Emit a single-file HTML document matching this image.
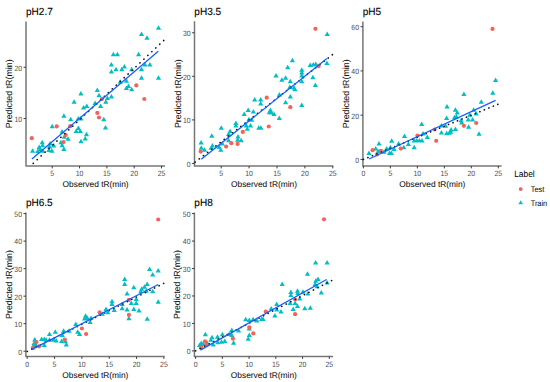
<!DOCTYPE html>
<html><head><meta charset="utf-8"><title>pH panels</title>
<style>
html,body{margin:0;padding:0;background:#fff;}
body{width:550px;height:382px;overflow:hidden;}
svg{display:block;font-family:"Liberation Sans", sans-serif;text-rendering:geometricPrecision;}
.ttl{font-size:10.35px;fill:#000;stroke:#000;stroke-width:0.1px;}
.atl{font-size:8.4px;fill:#111;stroke:#111;stroke-width:0.06px;}
.ytl{font-size:8.85px;fill:#111;stroke:#111;stroke-width:0.06px;}
.tl{font-size:7.7px;fill:#4D4D4D;}
.lgt{font-size:9.1px;fill:#000;}
.lgl{font-size:8.0px;fill:#000;}
.ax{fill:none;stroke:#777;stroke-width:1.5;}
.tk{fill:none;stroke:#333;stroke-width:0.95;}
</style></head>
<body>
<svg width="550" height="382" viewBox="0 0 550 382">
<rect width="550" height="382" fill="#fff"/>
<text transform="translate(26.0 15.15) scale(0.97 1)" class="ttl">pH2.7</text>
<text transform="translate(12.00 93.75) rotate(-90)" text-anchor="middle" class="ytl">Predicted tR(min)</text>
<text x="95.60" y="186.80" text-anchor="middle" class="atl">Observed tR(min)</text>
<path d="M26.00 21.50V166.00H165.00" class="ax"/>
<text transform="translate(52.22 176.30) scale(0.9 1)" text-anchor="middle" class="tl">5</text>
<text transform="translate(79.55 176.30) scale(0.9 1)" text-anchor="middle" class="tl">10</text>
<text transform="translate(106.88 176.30) scale(0.9 1)" text-anchor="middle" class="tl">15</text>
<text transform="translate(134.20 176.30) scale(0.9 1)" text-anchor="middle" class="tl">20</text>
<text transform="translate(161.53 176.30) scale(0.9 1)" text-anchor="middle" class="tl">25</text>
<text transform="translate(22.10 121.85) scale(0.9 1)" text-anchor="end" class="tl">10</text>
<text transform="translate(22.10 70.65) scale(0.9 1)" text-anchor="end" class="tl">20</text>
<path d="M52.22 166.00v2.4M79.55 166.00v2.4M106.88 166.00v2.4M134.20 166.00v2.4M161.53 166.00v2.4M26.00 118.50h-2.4M26.00 67.30h-2.4" class="tk"/>
<path d="M52.20 123.80L54.80 128.30L49.60 128.30ZM62.10 128.90L64.70 133.40L59.50 133.40ZM64.30 134.30L66.90 138.80L61.70 138.80ZM68.10 136.20L70.70 140.70L65.50 140.70ZM60.90 139.80L63.50 144.30L58.30 144.30ZM62.10 142.80L64.70 147.30L59.50 147.30ZM63.90 146.40L66.50 150.90L61.30 150.90ZM42.20 139.80L44.80 144.30L39.60 144.30ZM42.60 142.80L45.20 147.30L40.00 147.30ZM39.20 144.60L41.80 149.10L36.60 149.10ZM40.40 146.40L43.00 150.90L37.80 150.90ZM37.80 148.50L40.40 153.00L35.20 153.00ZM32.60 148.20L35.20 152.70L30.00 152.70ZM50.10 141.00L52.70 145.50L47.50 145.50ZM49.50 144.00L52.10 148.50L46.90 148.50ZM53.70 143.00L56.30 147.50L51.10 147.50ZM51.90 148.20L54.50 152.70L49.30 152.70ZM48.90 147.60L51.50 152.10L46.30 152.10ZM42.80 148.20L45.40 152.70L40.20 152.70ZM97.30 87.50L99.90 92.00L94.70 92.00ZM80.90 91.00L83.50 95.50L78.30 95.50ZM99.00 92.70L101.60 97.20L96.40 97.20ZM107.40 95.60L110.00 100.10L104.80 100.10ZM105.80 99.30L108.40 103.80L103.20 103.80ZM74.10 99.30L76.70 103.80L71.50 103.80ZM95.10 100.60L97.70 105.10L92.50 105.10ZM100.60 103.40L103.20 107.90L98.00 107.90ZM83.60 105.00L86.20 109.50L81.00 109.50ZM86.80 103.40L89.40 107.90L84.20 107.90ZM63.90 113.30L66.50 117.80L61.30 117.80ZM70.70 116.80L73.30 121.30L68.10 121.30ZM78.30 115.90L80.90 120.40L75.70 120.40ZM80.90 115.90L83.50 120.40L78.30 120.40ZM103.80 116.80L106.40 121.30L101.20 121.30ZM105.50 125.00L108.10 129.50L102.90 129.50ZM78.40 125.40L81.00 129.90L75.80 129.90ZM76.20 128.40L78.80 132.90L73.60 132.90ZM80.30 128.40L82.90 132.90L77.70 132.90ZM86.50 131.70L89.10 136.20L83.90 136.20ZM85.20 136.10L87.80 140.60L82.60 140.60ZM81.00 138.70L83.60 143.20L78.40 143.20ZM158.50 25.30L161.10 29.80L155.90 29.80ZM141.50 31.50L144.10 36.00L138.90 36.00ZM147.00 35.30L149.60 39.80L144.40 39.80ZM113.40 51.70L116.00 56.20L110.80 56.20ZM117.40 51.70L120.00 56.20L114.80 56.20ZM138.60 51.70L141.20 56.20L136.00 56.20ZM111.40 61.90L114.00 66.40L108.80 66.40ZM116.00 66.80L118.60 71.30L113.40 71.30ZM111.40 68.90L114.00 73.40L108.80 73.40ZM121.80 66.80L124.40 71.30L119.20 71.30ZM124.40 64.00L127.00 68.50L121.80 68.50ZM131.70 66.80L134.30 71.30L129.10 71.30ZM141.50 66.80L144.10 71.30L138.90 71.30ZM144.90 61.90L147.50 66.40L142.30 66.40ZM149.90 61.90L152.50 66.40L147.30 66.40ZM141.50 75.20L144.10 79.70L138.90 79.70ZM158.50 75.20L161.10 79.70L155.90 79.70ZM126.40 78.30L129.00 82.80L123.80 82.80ZM120.20 79.30L122.80 83.80L117.60 83.80ZM128.50 83.50L131.10 88.00L125.90 88.00ZM126.40 85.60L129.00 90.10L123.80 90.10ZM131.70 86.70L134.30 91.20L129.10 91.20ZM111.40 94.00L114.00 98.50L108.80 98.50Z" fill="#00BFC4"/>
<circle cx="31.80" cy="138.20" r="2.1" fill="#F3625B"/>
<circle cx="56.70" cy="126.40" r="2.1" fill="#F3625B"/>
<circle cx="65.70" cy="135.10" r="2.1" fill="#F3625B"/>
<circle cx="63.50" cy="142.10" r="2.1" fill="#F3625B"/>
<circle cx="70.30" cy="126.20" r="2.1" fill="#F3625B"/>
<circle cx="101.90" cy="99.10" r="2.1" fill="#F3625B"/>
<circle cx="97.30" cy="112.90" r="2.1" fill="#F3625B"/>
<circle cx="99.00" cy="117.50" r="2.1" fill="#F3625B"/>
<circle cx="136.30" cy="85.40" r="2.1" fill="#F3625B"/>
<circle cx="144.30" cy="99.00" r="2.1" fill="#F3625B"/>
<line x1="33.2" y1="163.4" x2="165.0" y2="39.3" stroke="#111" stroke-width="1.65" stroke-linecap="round" stroke-dasharray="0.15 5.28"/>
<line x1="31.9" y1="159.1" x2="158.3" y2="51.3" stroke="#1560FF" stroke-width="1.3"/>
<text transform="translate(194.3 15.15) scale(0.97 1)" class="ttl">pH3.5</text>
<text transform="translate(180.50 93.65) rotate(-90)" text-anchor="middle" class="ytl">Predicted tR(min)</text>
<text x="264.00" y="186.80" text-anchor="middle" class="atl">Observed tR(min)</text>
<path d="M194.50 21.30V166.00H333.30" class="ax"/>
<text transform="translate(221.20 176.30) scale(0.9 1)" text-anchor="middle" class="tl">5</text>
<text transform="translate(249.10 176.30) scale(0.9 1)" text-anchor="middle" class="tl">10</text>
<text transform="translate(277.00 176.30) scale(0.9 1)" text-anchor="middle" class="tl">15</text>
<text transform="translate(304.90 176.30) scale(0.9 1)" text-anchor="middle" class="tl">20</text>
<text transform="translate(332.80 176.30) scale(0.9 1)" text-anchor="middle" class="tl">25</text>
<text transform="translate(190.60 166.85) scale(0.9 1)" text-anchor="end" class="tl">0</text>
<text transform="translate(190.60 123.27) scale(0.9 1)" text-anchor="end" class="tl">10</text>
<text transform="translate(190.60 79.69) scale(0.9 1)" text-anchor="end" class="tl">20</text>
<text transform="translate(190.60 36.11) scale(0.9 1)" text-anchor="end" class="tl">30</text>
<path d="M221.20 166.00v2.4M249.10 166.00v2.4M277.00 166.00v2.4M304.90 166.00v2.4M332.80 166.00v2.4M194.50 163.50h-2.4M194.50 119.92h-2.4M194.50 76.34h-2.4M194.50 32.76h-2.4" class="tk"/>
<path d="M254.70 96.90L257.30 101.40L252.10 101.40ZM260.70 96.90L263.30 101.40L258.10 101.40ZM260.70 100.90L263.30 105.40L258.10 105.40ZM248.20 107.60L250.80 112.10L245.60 112.10ZM253.40 109.00L256.00 113.50L250.80 113.50ZM244.20 111.40L246.80 115.90L241.60 115.90ZM248.90 116.80L251.50 121.30L246.30 121.30ZM251.70 117.30L254.30 121.80L249.10 121.80ZM235.90 120.60L238.50 125.10L233.30 125.10ZM235.90 123.10L238.50 127.60L233.30 127.60ZM246.30 123.10L248.90 127.60L243.70 127.60ZM250.50 123.10L253.10 127.60L247.90 127.60ZM247.30 126.20L249.90 130.70L244.70 130.70ZM258.80 125.20L261.40 129.70L256.20 129.70ZM260.90 125.20L263.50 129.70L258.30 129.70ZM221.30 125.20L223.90 129.70L218.70 129.70ZM230.10 128.40L232.70 132.90L227.50 132.90ZM228.60 131.50L231.20 136.00L226.00 136.00ZM211.80 133.20L214.40 137.70L209.20 137.70ZM238.00 134.00L240.60 138.50L235.40 138.50ZM237.60 137.20L240.20 141.70L235.00 141.70ZM241.20 137.80L243.80 142.30L238.60 142.30ZM228.60 137.80L231.20 142.30L226.00 142.30ZM201.10 139.90L203.70 144.40L198.50 144.40ZM212.40 143.10L215.00 147.60L209.80 147.60ZM222.30 141.00L224.90 145.50L219.70 145.50ZM201.30 145.20L203.90 149.70L198.70 149.70ZM204.50 147.20L207.10 151.70L201.90 151.70ZM211.20 145.20L213.80 149.70L208.60 149.70ZM219.20 144.50L221.80 149.00L216.60 149.00ZM220.80 147.20L223.40 151.70L218.20 151.70ZM327.20 31.50L329.80 36.00L324.60 36.00ZM292.40 57.80L295.00 62.30L289.80 62.30ZM287.70 64.70L290.30 69.20L285.10 69.20ZM310.20 62.60L312.80 67.10L307.60 67.10ZM313.30 61.90L315.90 66.40L310.70 66.40ZM315.80 61.50L318.40 66.00L313.20 66.00ZM326.90 60.50L329.50 65.00L324.30 65.00ZM301.80 67.20L304.40 71.70L299.20 71.70ZM301.80 69.90L304.40 74.40L299.20 74.40ZM301.80 73.10L304.40 77.60L299.20 77.60ZM276.00 73.10L278.60 77.60L273.40 77.60ZM281.90 77.20L284.50 81.70L279.30 81.70ZM285.60 75.20L288.20 79.70L283.00 79.70ZM290.30 78.70L292.90 83.20L287.70 83.20ZM301.80 78.70L304.40 83.20L299.20 83.20ZM312.90 74.70L315.50 79.20L310.30 79.20ZM315.40 82.50L318.00 87.00L312.80 87.00ZM289.80 84.60L292.40 89.10L287.20 89.10ZM294.00 85.00L296.60 89.50L291.40 89.50ZM294.90 86.70L297.50 91.20L292.30 91.20ZM279.40 91.90L282.00 96.40L276.80 96.40ZM290.30 94.00L292.90 98.50L287.70 98.50ZM285.60 99.70L288.20 104.20L283.00 104.20ZM301.80 102.60L304.40 107.10L299.20 107.10ZM270.40 107.60L273.00 112.10L267.80 112.10ZM269.30 109.70L271.90 114.20L266.70 114.20ZM271.40 110.00L274.00 114.50L268.80 114.50ZM274.00 111.40L276.60 115.90L271.40 115.90ZM279.30 115.60L281.90 120.10L276.70 120.10Z" fill="#00BFC4"/>
<circle cx="242.80" cy="131.90" r="2.1" fill="#F3625B"/>
<circle cx="231.30" cy="143.20" r="2.1" fill="#F3625B"/>
<circle cx="237.60" cy="143.90" r="2.1" fill="#F3625B"/>
<circle cx="226.10" cy="146.60" r="2.1" fill="#F3625B"/>
<circle cx="200.70" cy="151.60" r="2.1" fill="#F3625B"/>
<circle cx="315.40" cy="28.80" r="2.1" fill="#F3625B"/>
<circle cx="318.60" cy="66.10" r="2.1" fill="#F3625B"/>
<circle cx="266.70" cy="97.70" r="2.1" fill="#F3625B"/>
<circle cx="290.30" cy="107.20" r="2.1" fill="#F3625B"/>
<circle cx="268.80" cy="126.50" r="2.1" fill="#F3625B"/>
<line x1="195.1" y1="162.2" x2="333.6" y2="53.8" stroke="#111" stroke-width="1.65" stroke-linecap="round" stroke-dasharray="0.15 5.13"/>
<line x1="201.3" y1="159.3" x2="326.9" y2="58.4" stroke="#1560FF" stroke-width="1.3"/>
<text transform="translate(362.7 15.15) scale(0.97 1)" class="ttl">pH5</text>
<text transform="translate(348.90 93.75) rotate(-90)" text-anchor="middle" class="ytl">Predicted tR(min)</text>
<text x="432.35" y="186.80" text-anchor="middle" class="atl">Observed tR(min)</text>
<path d="M362.90 21.50V166.00H501.60" class="ax"/>
<text transform="translate(363.40 176.30) scale(0.9 1)" text-anchor="middle" class="tl">0</text>
<text transform="translate(390.38 176.30) scale(0.9 1)" text-anchor="middle" class="tl">5</text>
<text transform="translate(417.36 176.30) scale(0.9 1)" text-anchor="middle" class="tl">10</text>
<text transform="translate(444.34 176.30) scale(0.9 1)" text-anchor="middle" class="tl">15</text>
<text transform="translate(471.32 176.30) scale(0.9 1)" text-anchor="middle" class="tl">20</text>
<text transform="translate(498.30 176.30) scale(0.9 1)" text-anchor="middle" class="tl">25</text>
<text transform="translate(359.00 162.75) scale(0.9 1)" text-anchor="end" class="tl">0</text>
<text transform="translate(359.00 118.51) scale(0.9 1)" text-anchor="end" class="tl">20</text>
<text transform="translate(359.00 74.27) scale(0.9 1)" text-anchor="end" class="tl">40</text>
<text transform="translate(359.00 30.03) scale(0.9 1)" text-anchor="end" class="tl">60</text>
<path d="M363.40 166.00v2.4M390.38 166.00v2.4M417.36 166.00v2.4M444.34 166.00v2.4M471.32 166.00v2.4M498.30 166.00v2.4M362.90 159.40h-2.4M362.90 115.16h-2.4M362.90 70.92h-2.4M362.90 26.68h-2.4" class="tk"/>
<path d="M421.70 121.60L424.30 126.10L419.10 126.10ZM404.50 133.60L407.10 138.10L401.90 138.10ZM427.30 134.50L429.90 139.00L424.70 139.00ZM423.10 131.10L425.70 135.60L420.50 135.60ZM414.20 137.90L416.80 142.40L411.60 142.40ZM416.80 137.90L419.40 142.40L414.20 142.40ZM419.40 137.90L422.00 142.40L416.80 142.40ZM422.00 137.90L424.60 142.40L419.40 142.40ZM414.20 144.70L416.80 149.20L411.60 149.20ZM391.70 138.20L394.30 142.70L389.10 142.70ZM379.00 140.90L381.60 145.40L376.40 145.40ZM398.60 140.90L401.20 145.40L396.00 145.40ZM408.40 141.50L411.00 146.00L405.80 146.00ZM403.80 144.80L406.40 149.30L401.20 149.30ZM390.40 144.80L393.00 149.30L387.80 149.30ZM394.10 146.60L396.70 151.10L391.50 151.10ZM386.70 146.10L389.30 150.60L384.10 150.60ZM375.70 146.10L378.30 150.60L373.10 150.60ZM369.00 150.60L371.60 155.10L366.40 155.10ZM389.50 150.60L392.10 155.10L386.90 155.10ZM391.30 150.60L393.90 155.10L388.70 155.10ZM378.10 148.80L380.70 153.30L375.50 153.30ZM384.00 149.20L386.60 153.70L381.40 153.70ZM463.90 91.60L466.50 96.10L461.30 96.10ZM492.80 90.30L495.40 94.80L490.20 94.80ZM481.30 99.20L483.90 103.70L478.70 103.70ZM447.00 104.10L449.60 108.60L444.40 108.60ZM455.40 107.30L458.00 111.80L452.80 111.80ZM457.30 110.10L459.90 114.60L454.70 114.60ZM473.70 107.30L476.30 111.80L471.10 111.80ZM456.40 113.90L459.00 118.40L453.80 118.40ZM454.50 114.80L457.10 119.30L451.90 119.30ZM446.60 115.40L449.20 119.90L444.00 119.90ZM469.80 112.30L472.40 116.80L467.20 116.80ZM468.20 117.10L470.80 121.60L465.60 121.60ZM472.60 116.90L475.20 121.40L470.00 121.40ZM476.20 111.10L478.80 115.60L473.60 115.60ZM461.70 119.90L464.30 124.40L459.10 124.40ZM461.10 117.70L463.70 122.20L458.50 122.20ZM468.60 124.30L471.20 128.80L466.00 128.80ZM441.40 123.00L444.00 127.50L438.80 127.50ZM445.60 123.20L448.20 127.70L443.00 127.70ZM441.40 130.00L444.00 134.50L438.80 134.50ZM446.60 130.70L449.20 135.20L444.00 135.20ZM449.30 130.30L451.90 134.80L446.70 134.80ZM451.10 127.10L453.70 131.60L448.50 131.60ZM455.40 126.50L458.00 131.00L452.80 131.00ZM450.70 129.30L453.30 133.80L448.10 133.80ZM479.00 131.20L481.60 135.70L476.40 135.70ZM495.60 77.40L498.20 81.90L493.00 81.90Z" fill="#00BFC4"/>
<circle cx="417.50" cy="135.50" r="2.1" fill="#F3625B"/>
<circle cx="400.80" cy="148.60" r="2.1" fill="#F3625B"/>
<circle cx="372.60" cy="150.20" r="2.1" fill="#F3625B"/>
<circle cx="380.90" cy="150.80" r="2.1" fill="#F3625B"/>
<circle cx="377.00" cy="154.50" r="2.1" fill="#F3625B"/>
<circle cx="463.90" cy="125.80" r="2.1" fill="#F3625B"/>
<circle cx="476.20" cy="123.00" r="2.1" fill="#F3625B"/>
<circle cx="436.20" cy="140.80" r="2.1" fill="#F3625B"/>
<circle cx="434.60" cy="129.50" r="2.1" fill="#F3625B"/>
<circle cx="492.50" cy="28.90" r="2.1" fill="#F3625B"/>
<line x1="363.4" y1="159.4" x2="500.5" y2="103.2" stroke="#111" stroke-width="1.65" stroke-linecap="round" stroke-dasharray="0.15 4.69"/>
<line x1="369.0" y1="159.0" x2="495.6" y2="100.4" stroke="#1560FF" stroke-width="1.3"/>
<text transform="translate(25.9 206.15) scale(0.97 1)" class="ttl">pH6.5</text>
<text transform="translate(11.90 284.50) rotate(-90)" text-anchor="middle" class="ytl">Predicted tR(min)</text>
<text x="95.35" y="377.90" text-anchor="middle" class="atl">Observed tR(min)</text>
<path d="M25.90 212.50V356.50H164.60" class="ax"/>
<text transform="translate(27.20 366.80) scale(0.9 1)" text-anchor="middle" class="tl">0</text>
<text transform="translate(54.54 366.80) scale(0.9 1)" text-anchor="middle" class="tl">5</text>
<text transform="translate(81.88 366.80) scale(0.9 1)" text-anchor="middle" class="tl">10</text>
<text transform="translate(109.22 366.80) scale(0.9 1)" text-anchor="middle" class="tl">15</text>
<text transform="translate(136.56 366.80) scale(0.9 1)" text-anchor="middle" class="tl">20</text>
<text transform="translate(163.90 366.80) scale(0.9 1)" text-anchor="middle" class="tl">25</text>
<text transform="translate(22.00 354.55) scale(0.9 1)" text-anchor="end" class="tl">0</text>
<text transform="translate(22.00 327.03) scale(0.9 1)" text-anchor="end" class="tl">10</text>
<text transform="translate(22.00 299.51) scale(0.9 1)" text-anchor="end" class="tl">20</text>
<text transform="translate(22.00 271.99) scale(0.9 1)" text-anchor="end" class="tl">30</text>
<text transform="translate(22.00 244.47) scale(0.9 1)" text-anchor="end" class="tl">40</text>
<text transform="translate(22.00 216.95) scale(0.9 1)" text-anchor="end" class="tl">50</text>
<path d="M27.20 356.50v2.4M54.54 356.50v2.4M81.88 356.50v2.4M109.22 356.50v2.4M136.56 356.50v2.4M163.90 356.50v2.4M25.90 351.20h-2.4M25.90 323.68h-2.4M25.90 296.16h-2.4M25.90 268.64h-2.4M25.90 241.12h-2.4M25.90 213.60h-2.4" class="tk"/>
<path d="M85.60 313.20L88.20 317.70L83.00 317.70ZM87.40 315.40L90.00 319.90L84.80 319.90ZM84.60 315.90L87.20 320.40L82.00 320.40ZM91.10 315.40L93.70 319.90L88.50 319.90ZM90.10 319.60L92.70 324.10L87.50 324.10ZM75.80 321.40L78.40 325.90L73.20 325.90ZM77.70 329.30L80.30 333.80L75.10 333.80ZM79.50 331.50L82.10 336.00L76.90 336.00ZM55.30 329.30L57.90 333.80L52.70 333.80ZM49.50 331.50L52.10 336.00L46.90 336.00ZM63.60 328.20L66.20 332.70L61.00 332.70ZM69.10 328.20L71.70 332.70L66.50 332.70ZM62.30 332.40L64.90 336.90L59.70 336.90ZM41.60 336.60L44.20 341.10L39.00 341.10ZM44.30 336.60L46.90 341.10L41.70 341.10ZM46.20 337.30L48.80 341.80L43.60 341.80ZM53.50 337.30L56.10 341.80L50.90 341.80ZM56.20 337.90L58.80 342.40L53.60 342.40ZM49.50 337.30L52.10 341.80L46.90 341.80ZM61.70 338.40L64.30 342.90L59.10 342.90ZM65.40 338.80L68.00 343.30L62.80 343.30ZM66.30 342.10L68.90 346.60L63.70 346.60ZM44.30 342.50L46.90 347.00L41.70 347.00ZM34.80 337.00L37.40 341.50L32.20 341.50ZM34.20 340.60L36.80 345.10L31.60 345.10ZM33.30 343.40L35.90 347.90L30.70 347.90ZM36.10 342.50L38.70 347.00L33.50 347.00ZM149.60 266.40L152.20 270.90L147.00 270.90ZM158.20 268.00L160.80 272.50L155.60 272.50ZM152.70 271.90L155.30 276.40L150.10 276.40ZM124.70 276.50L127.30 281.00L122.10 281.00ZM124.70 281.40L127.30 285.90L122.10 285.90ZM133.80 284.70L136.40 289.20L131.20 289.20ZM147.20 281.40L149.80 285.90L144.60 285.90ZM144.50 284.20L147.10 288.70L141.90 288.70ZM141.70 286.30L144.30 290.80L139.10 290.80ZM146.30 288.20L148.90 292.70L143.70 292.70ZM152.70 288.70L155.30 293.20L150.10 293.20ZM140.80 288.70L143.40 293.20L138.20 293.20ZM127.10 291.10L129.70 295.60L124.50 295.60ZM136.20 296.60L138.80 301.10L133.60 301.10ZM136.20 300.60L138.80 305.10L133.60 305.10ZM131.30 300.60L133.90 305.10L128.70 305.10ZM112.00 298.80L114.60 303.30L109.40 303.30ZM112.00 301.60L114.60 306.10L109.40 306.10ZM122.10 301.60L124.70 306.10L119.50 306.10ZM158.20 299.20L160.80 303.70L155.60 303.70ZM122.10 305.80L124.70 310.30L119.50 310.30ZM127.10 307.10L129.70 311.60L124.50 311.60ZM133.80 306.50L136.40 311.00L131.20 311.00ZM139.00 308.00L141.60 312.50L136.40 312.50ZM114.20 307.60L116.80 312.10L111.60 312.10ZM106.00 306.50L108.60 311.00L103.40 311.00ZM107.80 309.80L110.40 314.30L105.20 314.30ZM102.30 311.30L104.90 315.80L99.70 315.80ZM128.90 315.70L131.50 320.20L126.30 320.20ZM147.20 316.20L149.80 320.70L144.60 320.70Z" fill="#00BFC4"/>
<circle cx="81.90" cy="328.50" r="2.1" fill="#F3625B"/>
<circle cx="86.10" cy="334.00" r="2.1" fill="#F3625B"/>
<circle cx="64.80" cy="339.50" r="2.1" fill="#F3625B"/>
<circle cx="36.40" cy="342.10" r="2.1" fill="#F3625B"/>
<circle cx="39.20" cy="346.30" r="2.1" fill="#F3625B"/>
<circle cx="33.00" cy="348.10" r="2.1" fill="#F3625B"/>
<circle cx="128.90" cy="299.90" r="2.1" fill="#F3625B"/>
<circle cx="99.60" cy="312.30" r="2.1" fill="#F3625B"/>
<circle cx="128.90" cy="314.90" r="2.1" fill="#F3625B"/>
<circle cx="158.20" cy="219.50" r="2.1" fill="#F3625B"/>
<line x1="27.2" y1="351.5" x2="164.6" y2="283.0" stroke="#111" stroke-width="1.65" stroke-linecap="round" stroke-dasharray="0.15 4.93"/>
<line x1="31.5" y1="349.6" x2="158.2" y2="284.5" stroke="#1560FF" stroke-width="1.3"/>
<text transform="translate(194.3 206.15) scale(0.97 1)" class="ttl">pH8</text>
<text transform="translate(180.40 284.50) rotate(-90)" text-anchor="middle" class="ytl">Predicted tR(min)</text>
<text x="263.85" y="377.90" text-anchor="middle" class="atl">Observed tR(min)</text>
<path d="M194.40 212.50V356.50H333.10" class="ax"/>
<text transform="translate(195.60 366.80) scale(0.9 1)" text-anchor="middle" class="tl">0</text>
<text transform="translate(222.34 366.80) scale(0.9 1)" text-anchor="middle" class="tl">5</text>
<text transform="translate(249.08 366.80) scale(0.9 1)" text-anchor="middle" class="tl">10</text>
<text transform="translate(275.82 366.80) scale(0.9 1)" text-anchor="middle" class="tl">15</text>
<text transform="translate(302.56 366.80) scale(0.9 1)" text-anchor="middle" class="tl">20</text>
<text transform="translate(329.30 366.80) scale(0.9 1)" text-anchor="middle" class="tl">25</text>
<text transform="translate(190.50 354.25) scale(0.9 1)" text-anchor="end" class="tl">0</text>
<text transform="translate(190.50 326.79) scale(0.9 1)" text-anchor="end" class="tl">10</text>
<text transform="translate(190.50 299.33) scale(0.9 1)" text-anchor="end" class="tl">20</text>
<text transform="translate(190.50 271.87) scale(0.9 1)" text-anchor="end" class="tl">30</text>
<text transform="translate(190.50 244.41) scale(0.9 1)" text-anchor="end" class="tl">40</text>
<text transform="translate(190.50 216.95) scale(0.9 1)" text-anchor="end" class="tl">50</text>
<path d="M195.60 356.50v2.4M222.34 356.50v2.4M249.08 356.50v2.4M275.82 356.50v2.4M302.56 356.50v2.4M329.30 356.50v2.4M194.40 350.90h-2.4M194.40 323.44h-2.4M194.40 295.98h-2.4M194.40 268.52h-2.4M194.40 241.06h-2.4M194.40 213.60h-2.4" class="tk"/>
<path d="M245.70 316.70L248.30 321.20L243.10 321.20ZM249.30 317.40L251.90 321.90L246.70 321.90ZM253.10 316.70L255.70 321.20L250.50 321.20ZM256.90 318.00L259.50 322.50L254.30 322.50ZM261.60 316.40L264.20 320.90L259.00 320.90ZM249.30 326.10L251.90 330.60L246.70 330.60ZM249.30 332.40L251.90 336.90L246.70 336.90ZM248.20 336.30L250.80 340.80L245.60 340.80ZM238.60 327.90L241.20 332.40L236.00 332.40ZM231.80 327.60L234.40 332.10L229.20 332.10ZM229.20 331.40L231.80 335.90L226.60 335.90ZM231.80 332.40L234.40 336.90L229.20 336.90ZM222.40 331.80L225.00 336.30L219.80 336.30ZM217.50 334.20L220.10 338.70L214.90 338.70ZM212.00 334.80L214.60 339.30L209.40 339.30ZM205.40 331.80L208.00 336.30L202.80 336.30ZM210.90 337.30L213.50 341.80L208.30 341.80ZM217.80 339.70L220.40 344.20L215.20 344.20ZM221.50 339.20L224.10 343.70L218.90 343.70ZM224.80 338.40L227.40 342.90L222.20 342.90ZM233.60 340.20L236.20 344.70L231.00 344.70ZM213.20 342.10L215.80 346.60L210.60 346.60ZM201.30 340.60L203.90 345.10L198.70 345.10ZM203.20 341.60L205.80 346.10L200.60 346.10ZM199.50 342.50L202.10 347.00L196.90 347.00ZM207.20 340.60L209.80 345.10L204.60 345.10ZM315.60 260.00L318.20 264.50L313.00 264.50ZM327.10 260.00L329.70 264.50L324.50 264.50ZM307.50 271.30L310.10 275.80L304.90 275.80ZM282.20 281.40L284.80 285.90L279.60 285.90ZM318.00 276.50L320.60 281.00L315.40 281.00ZM315.80 278.30L318.40 282.80L313.20 282.80ZM315.20 281.40L317.80 285.90L312.60 285.90ZM327.10 280.10L329.70 284.60L324.50 284.60ZM321.30 290.00L323.90 294.50L318.70 294.50ZM317.10 283.80L319.70 288.30L314.50 288.30ZM307.90 291.10L310.50 295.60L305.30 295.60ZM303.00 289.30L305.60 293.80L300.40 293.80ZM297.50 288.20L300.10 292.70L294.90 292.70ZM297.80 290.60L300.40 295.10L295.20 295.10ZM290.90 289.60L293.50 294.10L288.30 294.10ZM290.90 292.40L293.50 296.90L288.30 296.90ZM299.70 296.10L302.30 300.60L297.10 300.60ZM295.10 300.60L297.70 305.10L292.50 305.10ZM297.50 303.40L300.10 307.90L294.90 307.90ZM290.10 300.60L292.70 305.10L287.50 305.10ZM293.20 306.50L295.80 311.00L290.60 311.00ZM304.80 305.80L307.40 310.30L302.20 310.30ZM310.30 305.20L312.90 309.70L307.70 309.70ZM276.70 301.60L279.30 306.10L274.10 306.10ZM281.00 308.90L283.60 313.40L278.40 313.40ZM271.20 306.10L273.80 310.60L268.60 310.60ZM274.90 313.10L277.50 317.60L272.30 317.60ZM276.70 307.10L279.30 311.60L274.10 311.60ZM263.00 316.60L265.60 321.10L260.40 321.10Z" fill="#00BFC4"/>
<circle cx="249.30" cy="327.40" r="2.1" fill="#F3625B"/>
<circle cx="253.30" cy="333.40" r="2.1" fill="#F3625B"/>
<circle cx="232.90" cy="338.70" r="2.1" fill="#F3625B"/>
<circle cx="205.00" cy="341.30" r="2.1" fill="#F3625B"/>
<circle cx="206.50" cy="344.50" r="2.1" fill="#F3625B"/>
<circle cx="201.30" cy="347.60" r="2.1" fill="#F3625B"/>
<circle cx="295.10" cy="299.50" r="2.1" fill="#F3625B"/>
<circle cx="295.10" cy="314.20" r="2.1" fill="#F3625B"/>
<circle cx="265.80" cy="311.60" r="2.1" fill="#F3625B"/>
<circle cx="324.00" cy="219.30" r="2.1" fill="#F3625B"/>
<line x1="195.6" y1="350.9" x2="333.0" y2="279.9" stroke="#111" stroke-width="1.65" stroke-linecap="round" stroke-dasharray="0.15 4.95"/>
<line x1="200.4" y1="350.1" x2="326.6" y2="279.5" stroke="#1560FF" stroke-width="1.3"/>
<text transform="translate(514.2 176.9) scale(0.92 1)" class="lgt">Label</text>
<circle cx="520.7" cy="189.1" r="1.95" fill="#F3625B"/>
<path d="M520.70 200.30L522.95 204.20L518.45 204.20Z" fill="#00BFC4"/>
<text transform="translate(530.7 192.10) scale(0.92 1)" class="lgl">Test</text>
<text transform="translate(530.7 205.80) scale(0.92 1)" class="lgl">Train</text>
</svg>
</body></html>
